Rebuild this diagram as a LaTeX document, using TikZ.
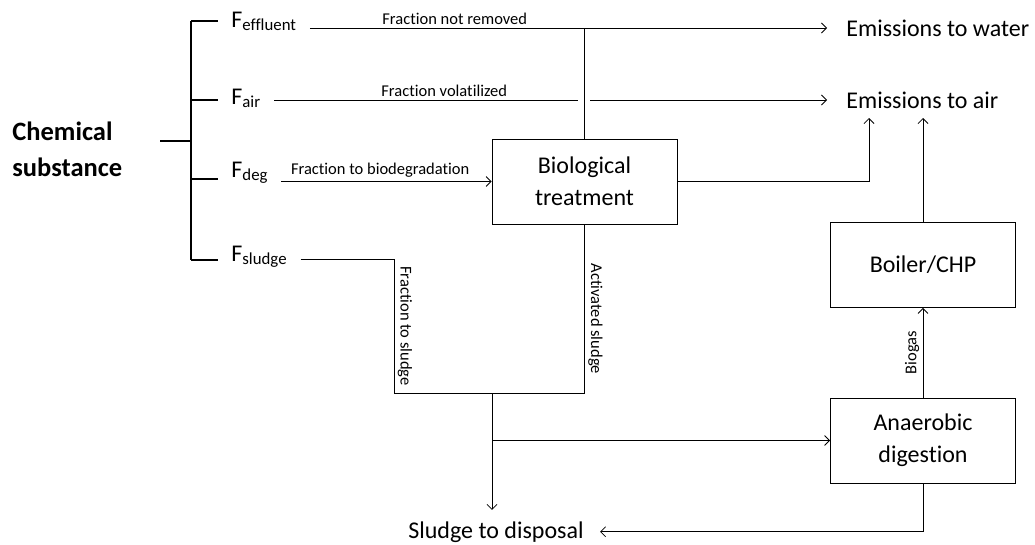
\documentclass[tikz,border=0pt]{standalone}
\usepackage{fontspec}
\setmainfont{Carlito}[Ligatures=NoCommon]
\usetikzlibrary{arrows.meta}

\newcommand\bigtxt{\fontsize{24}{32}\selectfont}
\newcommand\smalltxt{\fontsize{16.5}{19}\selectfont}

\tikzset{
  arr/.style={-{Straight Barb[length=5pt,width=10pt]}},
  bracket/.style={line width=1.3pt},
  box/.style={draw, minimum width=185pt, minimum height=85pt, align=center, font=\bigtxt},
  flab/.style={anchor=base west, inner xsep=13pt, font=\bigtxt},
  emis/.style={anchor=west, inner xsep=19pt, font=\bigtxt},
  lab/.style={font=\smalltxt},
}

\begin{document}
\begin{tikzpicture}[x=1pt, y=-1pt, line width=0.8pt]
  \useasboundingbox (0,0) rectangle (1035,544);

  % substance and its fractions
  \node[anchor=west, align=left, inner sep=0, font=\fontsize{26.5}{36}\selectfont\bfseries] (chem) at (12,149) {Chemical\\substance};
  \coordinate (stem) at (160,141);
  \coordinate (fork) at (191,141);
  \node[flab] (feff) at (218,27) {F\textsubscript{effluent}};
  \node[flab] (fair) at (218,104) {F\textsubscript{air}};
  \node[flab] (fdeg) at (218,177) {F\textsubscript{deg}};
  \node[flab] (fsl) at (218,261) {F\textsubscript{sludge}};
  \draw[bracket] (stem) -- (fork);
  \draw[bracket] (fork |- 0,21) -- (fork |- 0,260);
  \foreach \f/\y in {feff/21, fair/100, fdeg/179, fsl/260}
    \draw[bracket] (fork |- 0,\y) -- (\f.west |- 0,\y);

  % units and outlets
  \node[box] (bio) at (584.5,181.5) {Biological\\treatment};
  \node[box] (boiler) at (923,265) {Boiler/CHP};
  \node[box] (ad) at (923,440.5) {Anaerobic\\digestion};
  \node[emis] (water) at (827,28) {Emissions to water};
  \node[emis] (air) at (827,100) {Emissions to air};
  \node[anchor=base, inner xsep=16pt, inner ysep=11pt, font=\bigtxt] (disp) at (496,538) {Sludge to disposal};

  \coordinate (hopL) at (578,100);
  \coordinate (hopR) at (590,100);
  \coordinate (airIn) at (869,118);
  \coordinate (slL) at (394,393);
  \coordinate (mrg) at (492,393);

  % flows
  \draw[arr] (feff.east |- water.west) -- node[lab, above, pos=.28] {Fraction not removed} (water.west);
  \draw (fair.east |- air.west) -- node[lab, above, pos=.56] {Fraction volatilized} (hopL);
  \draw[arr] (hopR) -- (air.west);
  \draw[arr] (fdeg.east |- bio.west) -- node[lab, above, pos=.47] {Fraction to biodegradation} (bio.west);
  \draw (bio.north) -- (bio.north |- water.west);
  \draw[arr] (bio.east) -| (airIn);
  \draw[arr] (boiler.north) -- (boiler.north |- airIn);
  \draw[arr] (ad.north) -- node[lab, rotate=90, anchor=south] {Biogas} (boiler.south);
  \draw (fsl.east |- 0,259) -| node[lab, rotate=-90, anchor=south, pos=.75] {Fraction to sludge} (slL)
    -- (bio.south |- slL) -- node[lab, rotate=-90, anchor=south, pos=.44] {Activated sludge} (bio.south);
  \draw[arr] (mrg) -- (mrg |- disp.north);
  \draw[arr] (mrg |- ad.west) -- (ad.west);
  \draw[arr] (ad.south) |- (disp.east);
\end{tikzpicture}
\end{document}
